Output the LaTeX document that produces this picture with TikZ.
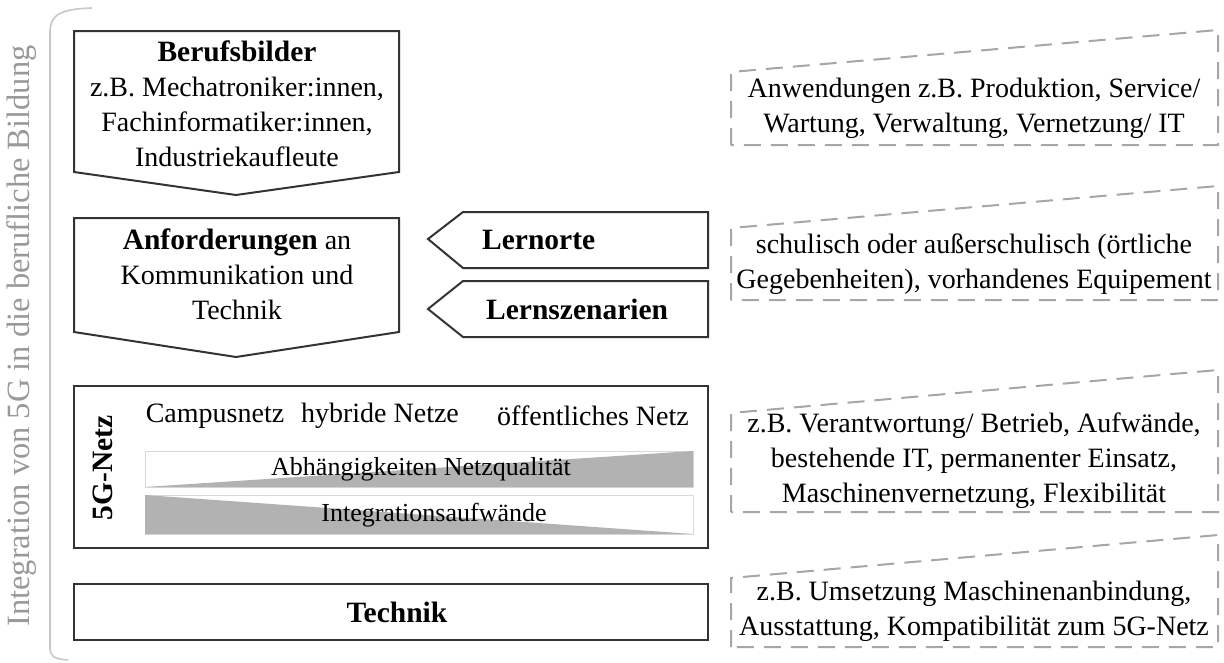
\documentclass[tikz,border=0pt]{standalone}
\usepackage{fontspec}
\setmainfont{Liberation Serif}
\begin{document}
\begin{tikzpicture}[x=1pt,y=-1pt,
  solidbox/.style={draw=black!80, line width=2pt, fill=white, line join=miter},
  dashbox/.style={draw=black!35, line width=2pt, dash pattern=on 17pt off 10pt},
  wedgebox/.style={draw=black!15, line width=1pt, fill=white},
  wedgefill/.style={fill=black!30},
  txt/.style={font=\fontsize{28}{35}\selectfont, align=center, inner sep=0pt},
  btxt/.style={font=\fontsize{29.5}{35}\selectfont\bfseries, align=center, inner sep=0pt},
  wtxt/.style={font=\fontsize{26}{30}\selectfont, inner sep=0pt},
  sidetxt/.style={font=\fontsize{32.5}{36}\selectfont, text=black!40, inner sep=0pt}]
\useasboundingbox (0,0) rectangle (1224,662);

% left bracket
\draw[black!22, line width=1.6pt] (92,8) .. controls (62,9) and (50,14) .. (50,32)
  -- (50,648) .. controls (50,656) and (54,659) .. (68,660);
\node[sidetxt, rotate=90] (side) at (22,336) {Integration von 5G in die berufliche Bildung};

% Berufsbilder
\draw[solidbox] (74,31) -- (399,31) -- (399,172) -- (236,195) -- (74,172) -- cycle;
\node[txt] (beruf) at (237,104) {{\fontsize{29.5}{35}\selectfont\bfseries Berufsbilder}\\z.B. Mechatroniker:innen,\\Fachinformatiker:innen,\\Industriekaufleute};

% Anforderungen
\draw[solidbox] (74,218) -- (399,218) -- (399,332) -- (236,357) -- (74,332) -- cycle;
\node[txt] (anf) at (237,274) {{\fontsize{29.5}{35}\selectfont\bfseries Anforderungen} an\\Kommunikation und\\Technik};

% Lernorte / Lernszenarien
\draw[solidbox] (428,239) -- (463,212) -- (708,212) -- (708,268) -- (463,268) -- cycle;
\node[btxt, anchor=west] (lernorte) at (482,240) {Lernorte};
\draw[solidbox] (428,309) -- (463,281) -- (708,281) -- (708,337) -- (463,337) -- cycle;
\node[btxt, anchor=west] (lernsz) at (486,309) {Lernszenarien};

% 5G-Netz
\draw[solidbox] (74,386) rectangle (708,548);
\node[btxt, rotate=90] (fg) at (103,468) {5G-Netz};
\node[txt] (campus) at (215,416) {Campusnetz};
\node[txt] (hybrid) at (380,416) {hybride Netze};
\node[txt] (oeff) at (593,416) {öffentliches Netz};
\draw[wedgebox] (145,451) rectangle (693,487);
\fill[wedgefill] (145,487) -- (693,451) -- (693,487) -- cycle;
\node[wtxt] (abh) at (421,469) {Abhängigkeiten Netzqualität};
\draw[wedgebox] (145,495) rectangle (693,534);
\fill[wedgefill] (145,495) -- (693,534) -- (145,534) -- cycle;
\node[wtxt] (integ) at (434,515) {Integrationsaufwände};

% Technik
\draw[solidbox] (74,584) rectangle (708,640);
\node[btxt] (technik) at (397,612) {Technik};

% right dashed boxes
\draw[dashbox] (731,145) -- (731,72) -- (1218,30) -- (1218,145) -- cycle;
\node[txt] (r1) at (974,108) {Anwendungen z.B. Produktion, Service/\\Wartung, Verwaltung, Vernetzung/ IT};
\draw[dashbox] (731,300) -- (731,228) -- (1218,186) -- (1218,300) -- cycle;
\node[txt] (r2) at (974,264) {schulisch oder außerschulisch (örtliche\\Gegebenheiten), vorhandenes Equipement};
\draw[dashbox] (731,512) -- (731,413) -- (1218,370) -- (1218,512) -- cycle;
\node[txt] (r3) at (974,461) {z.B. Verantwortung/ Betrieb, Aufwände,\\bestehende IT, permanenter Einsatz,\\Maschinenvernetzung, Flexibilität};
\draw[dashbox] (731,647) -- (731,578) -- (1218,535) -- (1218,647) -- cycle;
\node[txt] (r4) at (974,611) {z.B. Umsetzung Maschinenanbindung,\\Ausstattung, Kompatibilität zum 5G-Netz};
\end{tikzpicture}
\end{document}
